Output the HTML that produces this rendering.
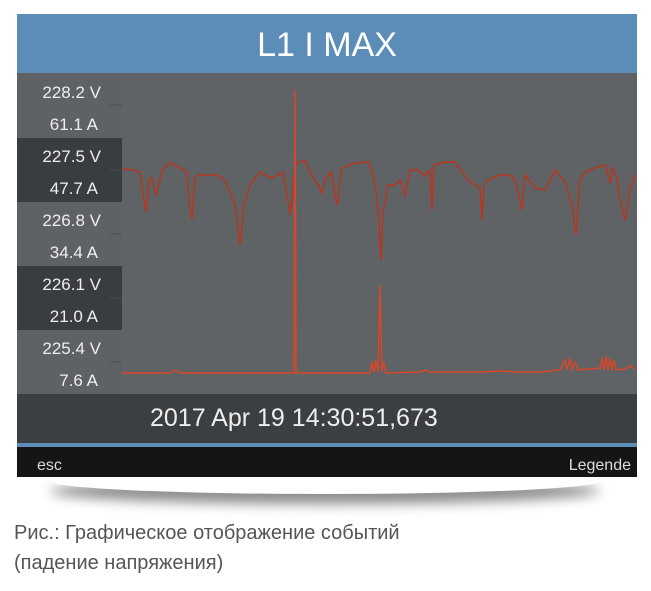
<!DOCTYPE html>
<html><head><meta charset="utf-8"><style>
body{margin:0;width:651px;height:591px;background:#fff;position:relative;overflow:hidden;font-family:"Liberation Sans","DejaVu Sans",sans-serif}
.a{position:absolute}
.lab{position:absolute;left:17px;width:105px;color:#eee;font-size:17px}
.lab div{position:absolute;right:21px}
</style></head><body>
<div class="a" style="left:50px;top:468px;width:550px;height:26px;border-radius:50%;box-shadow:0 10px 12px rgba(0,0,0,0.45)"></div>
<div class="a" style="left:17px;top:14px;width:620px;height:463px;background:#5f6366"></div>
<div class="a" style="left:17px;top:14px;width:620px;height:59px;background:#5b8db8;color:#fff;font-size:34px;text-align:center;line-height:62px">L1 I MAX</div>
<div class="a" style="left:17px;top:73px;width:105px;height:65px;background:#5e6265"></div>
<div class="a" style="left:17px;top:138px;width:105px;height:64px;background:#3a3d40"></div>
<div class="a" style="left:17px;top:202px;width:105px;height:64px;background:#5e6265"></div>
<div class="a" style="left:17px;top:266px;width:105px;height:64px;background:#3a3d40"></div>
<div class="a" style="left:17px;top:330px;width:105px;height:64px;background:#5e6265"></div>
<div class="lab" style="top:83px"><div>228.2 V</div></div>
<div class="lab" style="top:115px"><div style="right:24px">61.1 A</div></div>
<div class="lab" style="top:147px"><div>227.5 V</div></div>
<div class="lab" style="top:179px"><div style="right:24px">47.7 A</div></div>
<div class="lab" style="top:211px"><div>226.8 V</div></div>
<div class="lab" style="top:243px"><div style="right:24px">34.4 A</div></div>
<div class="lab" style="top:275px"><div>226.1 V</div></div>
<div class="lab" style="top:307px"><div style="right:24px">21.0 A</div></div>
<div class="lab" style="top:339px"><div>225.4 V</div></div>
<div class="lab" style="top:371px"><div style="right:24px">7.6 A</div></div>
<div class="a" style="left:17px;top:394px;width:620px;height:49px;background:#3c3f42;color:#eee;font-size:25px"><div class="a" style="left:133px;top:10px">2017 Apr 19 14:30:51,673</div></div>
<div class="a" style="left:17px;top:443px;width:620px;height:4px;background:#5b8db8"></div>
<div class="a" style="left:17px;top:447px;width:620px;height:30px;background:#151515;color:#ddd;font-size:16px"><div class="a" style="left:20px;top:10px">esc</div><div class="a" style="right:6px;top:10px">Legende</div></div>
<svg class="a" style="left:0;top:0" width="651" height="591">
<g stroke="#4a4d50" stroke-width="1"><line x1="110" y1="105" x2="122" y2="105"/><line x1="110" y1="170" x2="122" y2="170"/><line x1="110" y1="234" x2="122" y2="234"/><line x1="110" y1="298" x2="122" y2="298"/><line x1="110" y1="362" x2="122" y2="362"/></g>
<polyline fill="none" stroke="#b8361e" stroke-width="1.5" points="122,169 135,170 140,173 144,200 146,212 149,180 152,178 156,195 159,185 162,170 170,163 180,168 187,172 189,200 192,220 195,178 198,175 205,175 217,175 225,180 235,205 240,245 244,205 250,185 260,172 265,175 272,178 283,172 287,195 290,215 293,190 295,164 298,163 305,160 310,172 318,185 322,193 325,180 331,172 337,205 342,168 355,163 368,162 372,170 376,190 379,225 381,260 383,212 388,185 395,185 400,180 405,195 410,170 418,170 425,176 430,170 432,210 434,165 445,162 455,162 468,180 475,185 480,188 482,220 484,185 488,180 500,175 506,175 510,175 515,180 522,210 525,175 535,188 545,190 555,170 565,182 572,205 576,235 580,180 585,172 595,168 605,165 610,183 612,168 617,178 620,200 625,220 630,188 635,175"/>
<polyline fill="none" stroke="#d9472a" stroke-width="1.5" points="122,373 170,373 175,370 180,373 294,373 295,90 296,373 370,373 372,362 374,372 376,360 378,372 380,285 382,372 384,362 386,373 420,372 425,370 430,372 480,372 500,371 520,372 540,372 560,370 565,360 567,370 570,358 572,370 575,362 578,370 600,368 602,358 604,370 606,356 608,370 610,358 612,370 614,360 616,370 625,369 630,366 635,369"/>
</svg>
<div class="a" style="left:14px;top:518px;color:#555;font-size:20px;line-height:30px">Рис.: Графическое отображение событий<br>(падение напряжения)</div>
</body></html>
